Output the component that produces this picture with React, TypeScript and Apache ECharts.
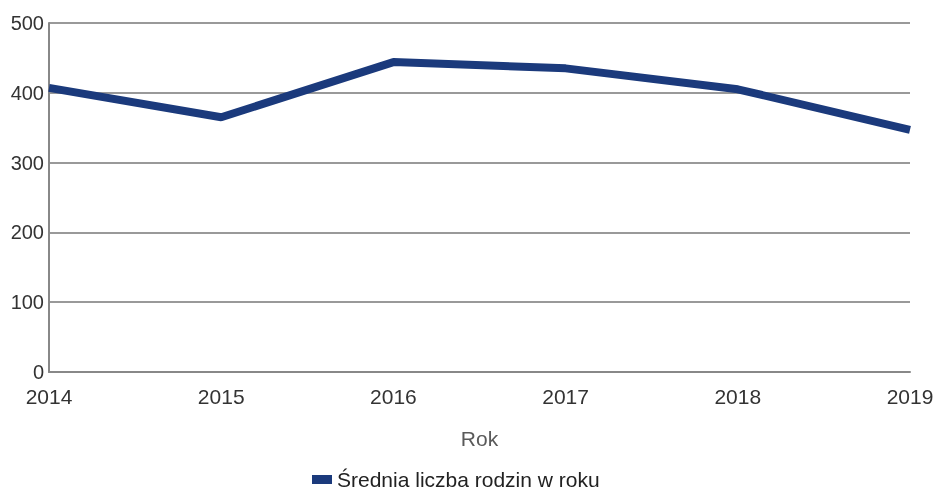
import React, { useEffect, useRef } from "react";
import * as echarts from "echarts";

const years = ["2014", "2015", "2016", "2017", "2018", "2019"];
const values = [407, 365, 444, 435, 405, 347];
const seriesName = "Średnia liczba rodzin w roku";
const xAxisName = "Rok";

export default function App() {
  const ref = useRef<HTMLDivElement>(null);
  useEffect(() => {
    if (!ref.current) return;
    const chart = echarts.init(ref.current, undefined, { renderer: "svg" });
    chart.setOption({
      animation: false,
      textStyle: { fontFamily: "Liberation Sans, Arial, sans-serif" },
      grid: {
        left: 49,
        right: 24,
        top: 23,
        bottom: 123,
        containLabel: false,
        outerBoundsMode: "none",
      },
      legend: {
        top: 464,
        left: 307,
        data: [{ name: seriesName, icon: "rect" }],
        itemWidth: 20,
        itemHeight: 9,
        itemGap: 8,
        textStyle: { fontSize: 21, color: "#222" },
      },
      xAxis: {
        type: "category",
        data: years,
        boundaryGap: false,
        name: xAxisName,
        nameLocation: "middle",
        nameGap: 56,
        nameTextStyle: { fontSize: 21, color: "#5a5a5a" },
        axisLine: { show: true, lineStyle: { color: "#888", width: 2 } },
        axisTick: { show: false },
        axisLabel: { fontSize: 21, color: "#333", margin: 14 },
        splitLine: { show: false },
      },
      yAxis: {
        type: "value",
        min: 0,
        max: 500,
        interval: 100,
        axisLine: { show: true, lineStyle: { color: "#888", width: 2 } },
        axisTick: { show: false },
        axisLabel: { fontSize: 20, color: "#333", margin: 5 },
        splitLine: { show: true, lineStyle: { color: "#999", width: 2 } },
      },
      series: [
        {
          name: seriesName,
          type: "line",
          data: values,
          showSymbol: false,
          symbol: "none",
          lineStyle: { color: "#1b3a7c", width: 8 },
          itemStyle: { color: "#1b3a7c" },
        },
      ],
    });
    return () => chart.dispose();
  }, []);
  return (
    <div
      ref={ref}
      style={{ position: "fixed", left: 0, top: 0, width: 934, height: 495 }}
    />
  );
}
